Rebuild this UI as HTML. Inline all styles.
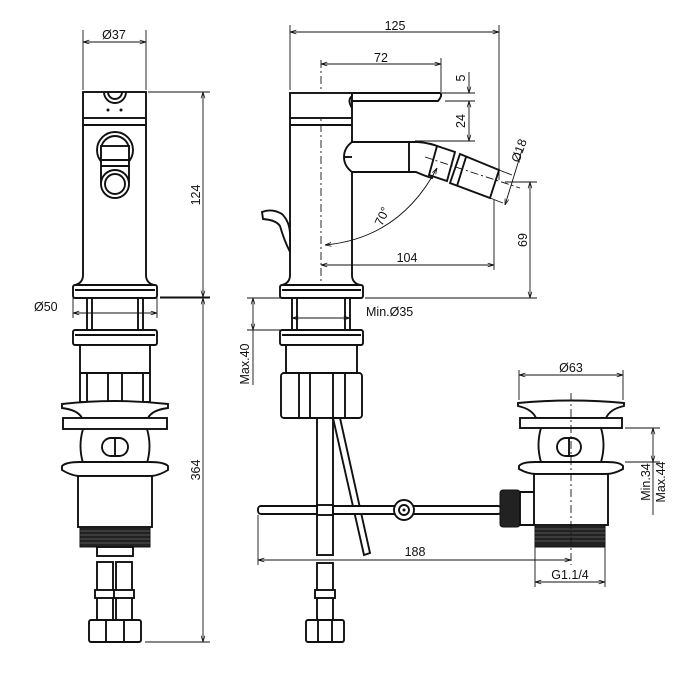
<!DOCTYPE html>
<html><head><meta charset="utf-8"><style>
html,body{margin:0;padding:0;background:#fff}
svg{display:block}
text{font-family:"Liberation Sans",sans-serif;font-size:12.5px;fill:#111}
.s{fill:none;stroke:#111;stroke-width:1.9}
.f{fill:#fff;stroke:#111;stroke-width:1.9}
.d{fill:none;stroke:#111;stroke-width:0.9}
.c{fill:none;stroke:#111;stroke-width:0.9;stroke-dasharray:8 3 2 3}
</style></head><body>
<svg width="700" height="700" viewBox="0 0 700 700" xmlns="http://www.w3.org/2000/svg">
<defs>
<marker id="a" viewBox="0 0 10 10" refX="10" refY="5" markerWidth="7" markerHeight="7" orient="auto-start-reverse"><path d="M0,2 L10,5 L0,8" fill="none" stroke="#111" stroke-width="1.2"/></marker>
</defs>

<!-- ============ FRONT VIEW ============ -->
<line class="d" x1="83" y1="30" x2="83" y2="90"/><line class="d" x1="146" y1="30" x2="146" y2="90"/>
<line class="d" x1="83" y1="42" x2="146" y2="42" marker-start="url(#a)" marker-end="url(#a)"/>
<text x="114" y="39" text-anchor="middle">Ø37</text>
<rect class="f" x="83" y="92" width="63" height="26"/>
<path class="s" d="M104,92 a11,11 0 0 0 22,0 M108,92 a7,7 0 0 0 14,0"/>
<circle cx="108" cy="110" r="1.5" fill="#111"/><circle cx="121" cy="110" r="1.5" fill="#111"/>
<path class="s" d="M83,118 V275 Q83,283 75,285 M146,118 V275 Q146,283 154,285"/>
<line class="s" x1="83" y1="125" x2="146" y2="125"/>
<rect class="f" x="73" y="285" width="84" height="13" rx="2"/>
<line class="s" x1="75" y1="290" x2="155" y2="290"/>
<circle class="s" cx="115" cy="150" r="18"/><circle class="s" cx="115" cy="150" r="14"/>
<rect class="f" x="101" y="146" width="28" height="36"/>
<line class="s" x1="101" y1="160" x2="129" y2="160"/><line class="s" x1="101" y1="166" x2="129" y2="166"/>
<circle class="f" cx="115" cy="184" r="14"/><circle class="s" cx="115" cy="184" r="10"/>
<line class="d" x1="148" y1="92" x2="210" y2="92"/><line class="d" x1="160" y1="297" x2="210" y2="297"/>
<line class="d" x1="203" y1="92" x2="203" y2="297" marker-start="url(#a)" marker-end="url(#a)"/>
<text transform="translate(200,195) rotate(-90)" text-anchor="middle">124</text>
<rect class="f" x="87" y="298" width="56" height="32"/>
<line class="s" x1="92" y1="298" x2="92" y2="330"/><line class="s" x1="138" y1="298" x2="138" y2="330"/>
<line class="d" x1="73" y1="298" x2="73" y2="318"/><line class="d" x1="157" y1="298" x2="157" y2="318"/>
<line class="d" x1="73" y1="313" x2="157" y2="313" marker-start="url(#a)" marker-end="url(#a)"/>
<text x="34" y="311">Ø50</text>
<rect class="f" x="73" y="330" width="84" height="15" rx="2"/>
<line class="s" x1="75" y1="335" x2="155" y2="335"/>
<rect class="f" x="80" y="345" width="70" height="57"/>
<line class="s" x1="80" y1="373" x2="150" y2="373"/>
<line class="s" x1="87" y1="373" x2="87" y2="402"/><line class="s" x1="108" y1="373" x2="108" y2="402"/><line class="s" x1="122" y1="373" x2="122" y2="402"/><line class="s" x1="143" y1="373" x2="143" y2="402"/>
<path class="f" d="M62,404 Q115,398 168,404 L168,408 Q152,410 148,418 H82 Q78,410 62,408 Z"/>
<rect class="f" x="63" y="418" width="104" height="11"/>
<path class="s" d="M83,429 Q78,446 83,463 M147,429 Q152,446 147,463"/>
<rect class="f" x="102" y="438" width="26" height="18" rx="9"/>
<line class="s" x1="115" y1="438" x2="115" y2="456"/>
<path class="f" d="M62,466 Q66,462 80,462 H150 Q164,462 168,466 V470 Q160,475 152,476 H78 Q70,475 62,470 Z"/>
<rect class="f" x="78" y="476" width="74" height="51"/>
<rect x="80" y="527" width="70" height="20" fill="#222" stroke="#111"/>
<g stroke="#666" stroke-width="0.8"><line x1="80" y1="531" x2="150" y2="531"/><line x1="80" y1="535" x2="150" y2="535"/><line x1="80" y1="539" x2="150" y2="539"/><line x1="80" y1="543" x2="150" y2="543"/></g>
<rect class="f" x="97" y="547" width="36" height="9"/>
<rect class="f" x="97" y="562" width="16" height="62"/><rect class="f" x="116" y="562" width="16" height="62"/>
<rect class="f" x="95" y="590" width="20" height="8"/><rect class="f" x="114" y="590" width="20" height="8"/>
<rect class="f" x="89" y="620" width="52" height="22" rx="2"/>
<line class="s" x1="106" y1="620" x2="106" y2="642"/><line class="s" x1="124" y1="620" x2="124" y2="642"/>
<line class="d" x1="160" y1="298" x2="210" y2="298"/><line class="d" x1="145" y1="642" x2="210" y2="642"/>
<line class="d" x1="203" y1="298" x2="203" y2="642" marker-start="url(#a)" marker-end="url(#a)"/>
<text transform="translate(200,470) rotate(-90)" text-anchor="middle">364</text>

<!-- ============ SIDE VIEW ============ -->
<line class="d" x1="290" y1="25" x2="290" y2="90"/><line class="d" x1="499" y1="25" x2="499" y2="180"/>
<line class="d" x1="290" y1="32" x2="499" y2="32" marker-start="url(#a)" marker-end="url(#a)"/>
<text x="395" y="30" text-anchor="middle">125</text>
<line class="d" x1="441" y1="58" x2="441" y2="92"/>
<line class="d" x1="321" y1="64" x2="441" y2="64" marker-start="url(#a)" marker-end="url(#a)"/>
<text x="381" y="62" text-anchor="middle">72</text>
<line class="c" x1="321" y1="60" x2="321" y2="285"/>
<rect class="f" x="290" y="93" width="62" height="25"/>
<path class="f" d="M352,93 H440 Q443,95 438,101 H352 Z"/>
<path class="s" d="M352,96 Q347,100 352,108"/>
<path class="s" d="M290,118 V275 Q290,283 282,285 M352,118 V275 Q352,283 360,285"/>
<line class="s" x1="290" y1="125" x2="352" y2="125"/>
<rect class="f" x="280" y="285" width="83" height="13" rx="2"/>
<line class="s" x1="282" y1="290" x2="361" y2="290"/>
<line class="d" x1="441" y1="93" x2="475" y2="93"/><line class="d" x1="445" y1="101" x2="475" y2="101"/><line class="d" x1="415" y1="141" x2="475" y2="141"/>
<line class="d" x1="469" y1="72" x2="469" y2="93" marker-end="url(#a)"/>
<line class="d" x1="469" y1="101" x2="469" y2="141" marker-start="url(#a)" marker-end="url(#a)"/>
<text transform="translate(465,78) rotate(-90)" text-anchor="middle">5</text>
<text transform="translate(465,121) rotate(-90)" text-anchor="middle">24</text>
<path class="f" d="M352,142 H418 Q430,143 440,147 L432,178 Q425,176 416,172 H352 Q344,166 344,157 Q344,148 352,142 Z"/>
<line class="s" x1="344" y1="157" x2="352" y2="157"/><line class="s" x1="409" y1="142" x2="409" y2="172"/>
<polygon class="f" points="437,146 455,152 447,181 429,175"/>
<polygon class="f" points="460,154 499,170 490,198 450,183"/>
<line class="s" x1="466" y1="157" x2="457" y2="186"/>
<line class="c" x1="425" y1="157" x2="520" y2="188"/>
<line class="d" x1="499" y1="170" x2="512" y2="175"/><line class="d" x1="490" y1="198" x2="503" y2="203"/>
<line class="d" x1="522" y1="150" x2="505" y2="205" marker-end="url(#a)"/>
<text transform="translate(523,152) rotate(-70)" text-anchor="middle">Ø18</text>
<path class="d" d="M325,245 Q400,238 437,168" marker-start="url(#a)" marker-end="url(#a)"/>
<text transform="translate(386,218) rotate(-65)" text-anchor="middle">70°</text>
<line class="d" x1="494" y1="200" x2="494" y2="270"/>
<line class="d" x1="321" y1="265" x2="494" y2="265" marker-start="url(#a)" marker-end="url(#a)"/>
<text x="407" y="262" text-anchor="middle">104</text>
<line class="d" x1="505" y1="182" x2="537" y2="182"/><line class="d" x1="365" y1="298" x2="537" y2="298"/>
<line class="d" x1="530" y1="182" x2="530" y2="298" marker-start="url(#a)" marker-end="url(#a)"/>
<text transform="translate(527,240) rotate(-90)" text-anchor="middle">69</text>
<path class="f" d="M262,212 Q272,208 282,214 Q290,222 290,235 L290,252 Q284,240 280,226 Q276,220 263,219 Z"/>
<rect class="f" x="292" y="298" width="58" height="32"/>
<line class="s" x1="297" y1="298" x2="297" y2="330"/><line class="s" x1="345" y1="298" x2="345" y2="330"/>
<line class="d" x1="292" y1="318" x2="350" y2="318" marker-start="url(#a)" marker-end="url(#a)"/>
<text x="366" y="316">Min.Ø35</text>
<line class="d" x1="247" y1="298" x2="290" y2="298"/><line class="d" x1="247" y1="330" x2="280" y2="330"/>
<line class="d" x1="253" y1="298" x2="253" y2="330" marker-start="url(#a)" marker-end="url(#a)"/>
<text transform="translate(249,364) rotate(-90)" text-anchor="middle">Max.40</text>
<line class="d" x1="253" y1="330" x2="253" y2="385"/>
<rect class="f" x="280" y="330" width="83" height="15" rx="2"/>
<line class="s" x1="282" y1="335" x2="361" y2="335"/>
<rect class="f" x="286" y="345" width="71" height="28"/>
<rect class="f" x="281" y="373" width="81" height="45" rx="3"/>
<line class="s" x1="299" y1="373" x2="299" y2="418"/><line class="s" x1="310" y1="373" x2="310" y2="418"/><line class="s" x1="333" y1="373" x2="333" y2="418"/><line class="s" x1="345" y1="373" x2="345" y2="418"/>
<rect class="f" x="317" y="418" width="16" height="137"/>
<polygon class="f" points="333,418 340,418 370,553 364,555"/>
<rect class="f" x="258" y="506" width="243" height="8" rx="3"/>
<rect class="f" x="317" y="505" width="16" height="10" stroke="none"/>
<line class="s" x1="317" y1="505" x2="317" y2="515"/><line class="s" x1="333" y1="505" x2="333" y2="515"/>
<circle class="f" cx="404" cy="510" r="10"/><circle class="s" cx="404" cy="510" r="5"/><circle cx="404" cy="510" r="1.5" fill="#111"/>
<rect x="500" y="490" width="20" height="37" rx="3" fill="#222" stroke="#111"/>
<path class="f" d="M520,492 H535 Q542,505 535,525 H520 Z"/>
<rect class="f" x="317" y="563" width="16" height="60"/>
<rect class="f" x="315" y="590" width="20" height="8"/>
<rect class="f" x="306" y="620" width="38" height="22" rx="2"/>
<line class="s" x1="318" y1="620" x2="318" y2="642"/><line class="s" x1="332" y1="620" x2="332" y2="642"/>

<!-- ============ DRAIN ============ -->
<line class="d" x1="519" y1="370" x2="519" y2="400"/><line class="d" x1="623" y1="370" x2="623" y2="400"/>
<line class="d" x1="519" y1="375" x2="623" y2="375" marker-start="url(#a)" marker-end="url(#a)"/>
<text x="571" y="372" text-anchor="middle">Ø63</text>
<path class="f" d="M518,403 Q571,398 624,403 L624,406 Q610,409 606,418 H536 Q532,409 518,406 Z"/>
<rect class="f" x="520" y="418" width="102" height="10"/>
<path class="s" d="M541,428 Q536,445 541,462 M601,428 Q606,445 601,462"/>
<rect class="f" x="557" y="438" width="24" height="18" rx="9"/>
<line class="s" x1="569" y1="438" x2="569" y2="456"/>
<path class="f" d="M519,466 Q522,462 535,462 H607 Q620,462 623,466 V469 Q614,474 606,474 H536 Q528,474 519,469 Z"/>
<rect class="f" x="534" y="474" width="74" height="51"/>
<rect x="535" y="525" width="70" height="22" fill="#222" stroke="#111"/>
<g stroke="#666" stroke-width="0.8"><line x1="535" y1="529" x2="605" y2="529"/><line x1="535" y1="533" x2="605" y2="533"/><line x1="535" y1="537" x2="605" y2="537"/><line x1="535" y1="541" x2="605" y2="541"/></g>
<line class="c" x1="571" y1="393" x2="571" y2="565"/>
<line class="d" x1="625" y1="428" x2="660" y2="428"/><line class="d" x1="625" y1="462" x2="660" y2="462"/>
<line class="d" x1="653" y1="428" x2="653" y2="462" marker-start="url(#a)" marker-end="url(#a)"/>
<line class="d" x1="653" y1="462" x2="653" y2="515"/>
<text transform="translate(650,482) rotate(-90)" text-anchor="middle">Min.34</text>
<text transform="translate(665,482) rotate(-90)" text-anchor="middle">Max.44</text>
<line class="d" x1="258" y1="515" x2="258" y2="565"/>
<line class="d" x1="258" y1="560" x2="571" y2="560" marker-start="url(#a)" marker-end="url(#a)"/>
<text x="415" y="556" text-anchor="middle">188</text>
<line class="d" x1="535" y1="547" x2="535" y2="587"/><line class="d" x1="605" y1="547" x2="605" y2="587"/>
<line class="d" x1="535" y1="582" x2="605" y2="582" marker-start="url(#a)" marker-end="url(#a)"/>
<text x="570" y="579" text-anchor="middle">G1.1/4</text>
</svg>
</body></html>
